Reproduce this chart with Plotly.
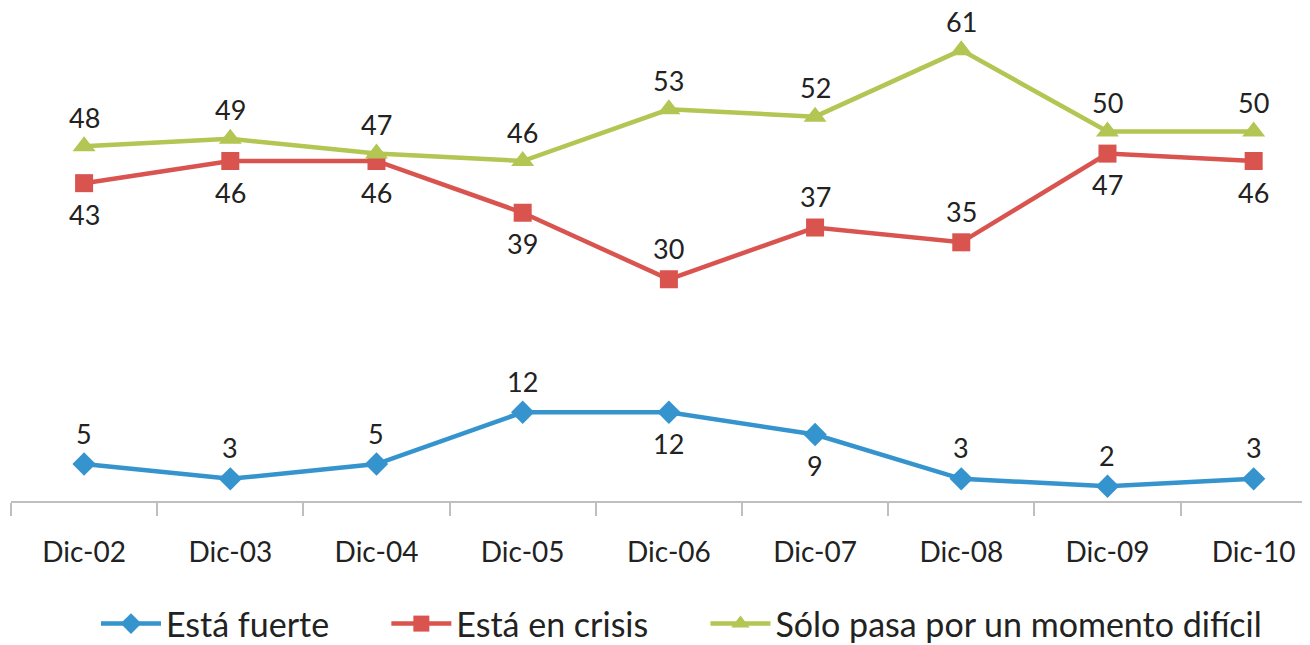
import plotly.graph_objects as go

# datos
periodos = ["Dic-02", "Dic-03", "Dic-04", "Dic-05", "Dic-06", "Dic-07", "Dic-08", "Dic-09", "Dic-10"]
fuerte = [5, 3, 5, 12, 12, 9, 3, 2, 3]
crisis = [43, 46, 46, 39, 30, 37, 35, 47, 46]
dificil = [48, 49, 47, 46, 53, 52, 61, 50, 50]

# +1 etiqueta arriba, -1 etiqueta abajo
lado_fuerte = [1, 1, 1, 1, -1, -1, 1, 1, 1]
lado_crisis = [-1, -1, -1, -1, 1, 1, 1, -1, -1]
lado_dificil = [1] * 9

FONT = "Lato"
SEP = "\u00a0" * 6  # separacion entre entradas de la leyenda

series = [
    ("Está fuerte" + SEP, fuerte, lado_fuerte, "#3594CD", "diamond", 18, 31),
    ("Está en crisis" + SEP, crisis, lado_crisis, "#D9534F", "square", 18, 31),
    ("Sólo pasa por un momento difícil", dificil, lado_dificil, "#B3C552", "triangle-up", 20, 29),
]

fig = go.Figure()

for nombre, vals, lados, color, simbolo, tam, desp in series:
    fig.add_trace(go.Scatter(
        x=periodos,
        y=vals,
        name=nombre,
        mode="lines+markers",
        line=dict(color=color, width=4.5),
        marker=dict(symbol=simbolo, size=tam, color=color),
        cliponaxis=False,
    ))
    # etiquetas de datos
    for p, v, s in zip(periodos, vals, lados):
        fig.add_annotation(
            x=p, y=v, text=str(v),
            showarrow=False,
            yshift=desp * s,
            borderpad=0,
            font=dict(family=FONT, size=27, color="#222222"),
        )

fig.update_layout(
    width=1310,
    height=645,
    margin=dict(l=3, r=0, t=0, b=141),
    plot_bgcolor="white",
    paper_bgcolor="white",
    font=dict(family=FONT, color="#222222"),
    legend=dict(
        orientation="h",
        x=0.513, xanchor="center",
        y=-0.25, yanchor="middle",
        font=dict(size=34),
        itemwidth=60,
    ),
)

fig.update_xaxes(
    type="category",
    range=[-0.5, 8.44],
    automargin=False,
    showline=True, linecolor="#BFBFBF", linewidth=2,
    ticks="outside", tickson="boundaries", ticklen=13, tickcolor="#BFBFBF", tickwidth=2,
    ticklabelstandoff=25,
    showgrid=False, zeroline=False,
    tickfont=dict(size=28),
)
fig.update_yaxes(
    range=[0, 66.7],
    automargin=False,
    showline=False, showgrid=False, zeroline=False, showticklabels=False,
)

fig.write_html("out.html")
